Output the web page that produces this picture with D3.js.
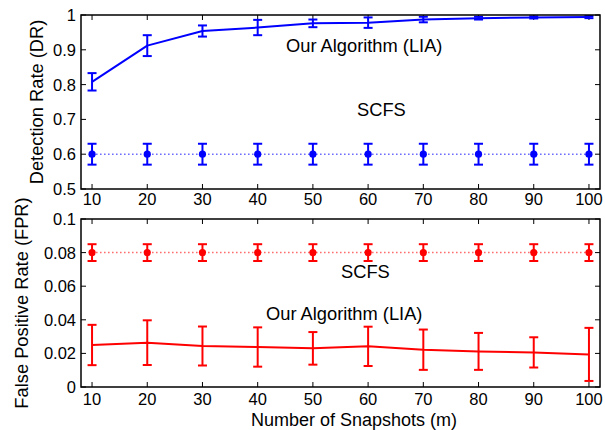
<!DOCTYPE html>
<html><head><meta charset="utf-8">
<script src="https://cdn.jsdelivr.net/npm/d3@7/dist/d3.min.js"></script>
<style>
body{margin:0;background:#fff;}
text{font-family:"Liberation Sans",Arial,Helvetica,sans-serif;fill:#000;}
</style></head>
<body><svg id="c" width="605" height="430"></svg>
<script>
const snapshots = [10,20,30,40,50,60,70,80,90,100];
const drLIA    = [0.808,0.912,0.954,0.964,0.976,0.978,0.987,0.991,0.993,0.994];
const drLIAErr = [0.025,0.030,0.016,0.022,0.011,0.015,0.008,0.004,0.003,0.003];
const drSCFS    = [0.6,0.6,0.6,0.6,0.6,0.6,0.6,0.6,0.6,0.6];
const drSCFSErr = [0.03,0.03,0.03,0.03,0.03,0.03,0.03,0.03,0.03,0.03];
const fprLIA    = [0.025,0.0264,0.0244,0.0238,0.023,0.0242,0.0222,0.0212,0.0206,0.0194];
const fprLIAErr = [0.012,0.0133,0.0116,0.0117,0.0097,0.0117,0.012,0.011,0.009,0.0158];
const fprSCFS    = [0.08,0.08,0.08,0.08,0.08,0.08,0.08,0.08,0.08,0.08];
const fprSCFSErr = [0.005,0.005,0.005,0.005,0.005,0.005,0.005,0.005,0.005,0.005];
const drTicks  = [0.5,0.6,0.7,0.8,0.9,1];
const fprTicks = [0,0.02,0.04,0.06,0.08,0.1];
const xTicks = snapshots;

const svg = d3.select("#c");
const x = d3.scaleLinear().domain([8,102]).range([81,600]);

function panel(top, bottom, domain, ticks, fmt, series, labels, ylab, ylabX, color, xlabY){
  const y = d3.scaleLinear().domain(domain).range([bottom, top]);
  const g = svg.append("g");
  const tl = 5;
  xTicks.forEach(v=>{
    g.append("line").attr("x1",x(v)).attr("x2",x(v)).attr("y1",bottom).attr("y2",bottom-tl).attr("stroke","#000").attr("stroke-width",1);
    g.append("line").attr("x1",x(v)).attr("x2",x(v)).attr("y1",top).attr("y2",top+tl).attr("stroke","#000").attr("stroke-width",1);
    g.append("text").attr("x",x(v)).attr("y",xlabY).attr("text-anchor","middle").attr("font-size",16.5).text(v);
  });
  ticks.forEach(v=>{
    g.append("line").attr("x1",81).attr("x2",81+tl).attr("y1",y(v)).attr("y2",y(v)).attr("stroke","#000").attr("stroke-width",1);
    g.append("line").attr("x1",600).attr("x2",600-tl).attr("y1",y(v)).attr("y2",y(v)).attr("stroke","#000").attr("stroke-width",1);
    g.append("text").attr("x",76).attr("y",y(v)).attr("dy","0.36em").attr("text-anchor","end").attr("font-size",16.5).text(fmt(v));
  });
  series.forEach(s=>{
    const pts = snapshots.map((d,i)=>({x:d,y:s.vals[i],e:s.err[i]}));
    const line = d3.line().x(d=>x(d.x)).y(d=>y(d.y));
    const p = g.append("path").datum(pts).attr("d",line).attr("fill","none").attr("stroke",color);
    if(s.dotted){ p.attr("stroke-width",1.5).attr("stroke-dasharray","1.5,2.5").attr("stroke-opacity",0.6); }
    else { p.attr("stroke-width",2).attr("stroke-linejoin","round"); }
    pts.forEach(d=>{
      const cx=x(d.x), y1=y(d.y+d.e), y2=y(d.y-d.e), w=4.5;
      g.append("line").attr("x1",cx).attr("x2",cx).attr("y1",y1).attr("y2",y2).attr("stroke",color).attr("stroke-width",2);
      g.append("line").attr("x1",cx-w).attr("x2",cx+w).attr("y1",y1).attr("y2",y1).attr("stroke",color).attr("stroke-width",2);
      g.append("line").attr("x1",cx-w).attr("x2",cx+w).attr("y1",y2).attr("y2",y2).attr("stroke",color).attr("stroke-width",2);
      if(s.marker) g.append("circle").attr("cx",cx).attr("cy",y(d.y)).attr("r",3.6).attr("fill",color);
    });
  });
  g.append("rect").attr("x",81).attr("y",top).attr("width",600-81).attr("height",bottom-top)
    .attr("fill","none").attr("stroke","#000").attr("stroke-width",1.5);
  labels.forEach(l=>{
    g.append("text").attr("x",l.x).attr("y",l.y).attr("font-size",18.3).text(l.t);
  });
  g.append("text").attr("transform",`translate(${ylabX},${(top+bottom)/2}) rotate(-90)`)
    .attr("text-anchor","middle").attr("font-size",18.3).text(ylab);
}

panel(15,189,[0.5,1],drTicks,d=>d3.format("")(d),
  [{vals:drLIA,err:drLIAErr,marker:false,dotted:false},{vals:drSCFS,err:drSCFSErr,marker:true,dotted:true}],
  [{t:"Our Algorithm (LIA)",x:286,y:52},{t:"SCFS",x:357,y:116}],
  "Detection Rate (DR)",43,"blue",205);

panel(219,387,[0,0.1],fprTicks,d=>d3.format("")(d),
  [{vals:fprLIA,err:fprLIAErr,marker:false,dotted:false},{vals:fprSCFS,err:fprSCFSErr,marker:true,dotted:true}],
  [{t:"Our Algorithm (LIA)",x:266,y:320},{t:"SCFS",x:341,y:278}],
  "False Positive Rate (FPR)",28,"red",405);

svg.append("text").attr("x",354).attr("y",425.5).attr("text-anchor","middle").attr("font-size",18).text("Number of Snapshots (m)");
</script></body></html>
